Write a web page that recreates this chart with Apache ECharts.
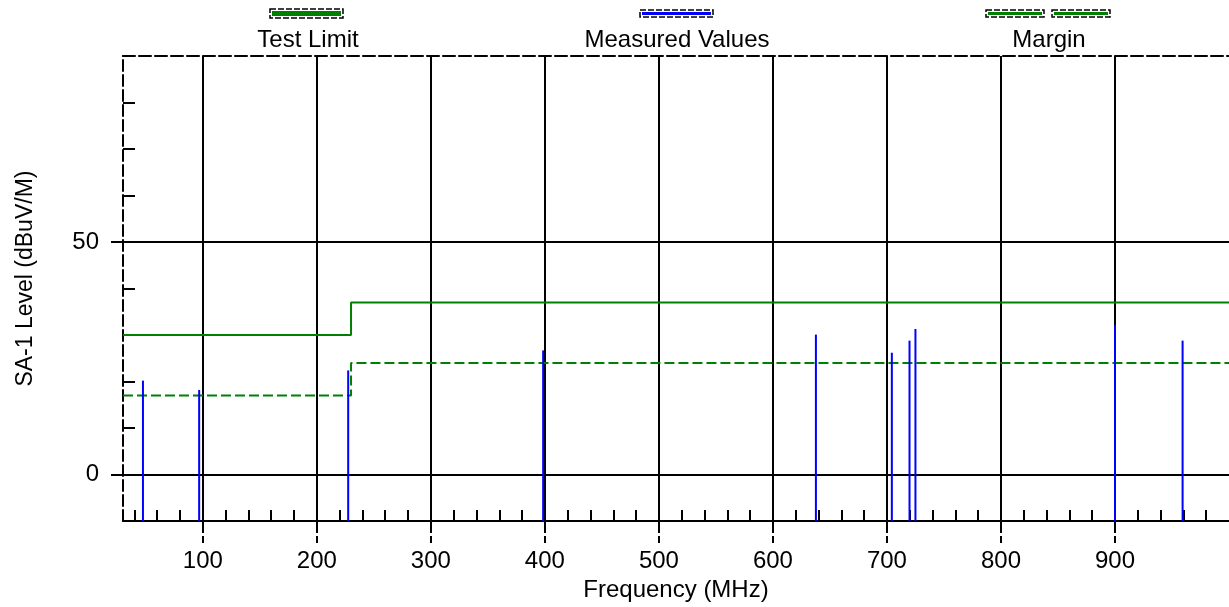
<!DOCTYPE html>
<html>
<head>
<meta charset="utf-8">
<script src="https://cdn.jsdelivr.net/npm/echarts@6/dist/echarts.min.js"></script>
<style>
  html, body { margin: 0; padding: 0; background: #fff; }
  #chart { width: 1229px; height: 607px; }
</style>
</head>
<body>
<div id="chart"></div>
<script>
// limit lines (MHz / dBuV/M)
const limitFreq = [30, 230, 230, 1000];
const limitLevel = [30, 30, 37, 37];
const marginLevel = [17, 17, 24, 24];

// measured peaks
const peakFreq = [47.5, 96.8, 227.5, 398.5, 637.7, 704.3, 719.8, 725.0, 900.0, 959.3];
const peakLevel = [20.2, 18.2, 22.4, 26.7, 30.1, 26.2, 28.8, 31.3, 32.2, 28.8];

// axes
const xMin = 30, xMax = 1000;
const yMin = -10, yMax = 90;
const xMajor = [100, 200, 300, 400, 500, 600, 700, 800, 900];
const xMinor = [40, 60, 80, 120, 140, 160, 180, 220, 240, 260, 280, 320, 340, 360, 380,
  420, 440, 460, 480, 520, 540, 560, 580, 620, 640, 660, 680, 720, 740, 760, 780,
  820, 840, 860, 880, 920, 940, 960, 980];
const yMajor = [0, 50];
const yMinor = [10, 20, 30, 40, 60, 70, 80];

const legendNames = ['Test Limit', 'Measured Values', 'Margin'];

const FONT = "'Liberation Sans', Arial, sans-serif";
const chart = echarts.init(document.getElementById('chart'), null, { renderer: 'canvas' });

const zip = (a, b) => a.map((v, i) => [v, b[i]]);

const option = {
  backgroundColor: '#fff',
  animation: false,
  textStyle: { fontFamily: FONT },
  grid: { left: 123, right: -4, top: 56, bottom: 80, containLabel: false },
  xAxis: [
    {
      type: 'value', min: xMin, max: xMax, position: 'bottom',
      name: 'Frequency (MHz)', nameLocation: 'middle', nameGap: 56,
      nameTextStyle: { fontSize: 24, color: '#000', fontFamily: FONT },
      axisLine: { show: true, onZero: false, lineStyle: { color: '#000', width: 2 } },
      axisTick: { show: true, customValues: xMajor, length: 22, lineStyle: { color: '#000', width: 2, type: [12, 3] } },
      axisLabel: { customValues: xMajor, fontSize: 24, color: '#000', margin: 28, fontFamily: FONT },
      splitLine: { show: true, lineStyle: { color: '#000', width: 2 } }
    },
    {
      type: 'value', min: xMin, max: xMax, position: 'bottom',
      axisLine: { show: false, onZero: false },
      axisTick: { show: true, inside: true, customValues: xMinor, length: 11, lineStyle: { color: '#000', width: 2 } },
      axisLabel: { show: false },
      splitLine: { show: false }
    },
    {
      type: 'value', min: xMin, max: xMax, position: 'top',
      axisLine: { show: true, onZero: false, lineStyle: { color: '#000', width: 2, type: [12, 4] } },
      axisTick: { show: false },
      axisLabel: { show: false },
      splitLine: { show: false }
    }
  ],
  yAxis: [
    {
      type: 'value', min: yMin, max: yMax, position: 'left',
      name: 'SA-1 Level (dBuV/M)', nameLocation: 'middle', nameGap: 86,
      nameTextStyle: { fontSize: 23, color: '#000', fontFamily: FONT, padding: [0, 0, 0, 20] },
      axisLine: { show: true, onZero: false, lineStyle: { color: '#000', width: 2, type: [11, 4] } },
      axisTick: { show: true, customValues: yMajor, length: 12, lineStyle: { color: '#000', width: 2 } },
      axisLabel: { customValues: yMajor, fontSize: 24, color: '#000', margin: 24, fontFamily: FONT },
      splitLine: { show: true, lineStyle: { color: '#000', width: 2 } }
    },
    {
      type: 'value', min: yMin, max: yMax, position: 'left',
      axisLine: { show: false, onZero: false },
      axisTick: { show: true, inside: true, customValues: yMinor, length: 12, lineStyle: { color: '#000', width: 2 } },
      axisLabel: { show: false },
      splitLine: { show: false }
    }
  ],
  series: [
    {
      name: legendNames[0], type: 'line', data: zip(limitFreq, limitLevel),
      symbol: 'none', lineStyle: { color: '#008000', width: 2 }, z: 3
    },
    {
      name: legendNames[2], type: 'line', data: zip(limitFreq, marginLevel),
      symbol: 'none', lineStyle: { color: '#008000', width: 2, type: [10, 4] }, z: 3
    },
    {
      name: legendNames[1], type: 'custom', data: zip(peakFreq, peakLevel), z: 4,
      renderItem: function (params, api) {
        const top = api.coord([api.value(0), api.value(1)]);
        const base = api.coord([api.value(0), yMin]);
        return {
          type: 'line',
          shape: { x1: top[0], y1: top[1], x2: base[0], y2: base[1] },
          style: { stroke: '#0000ff', lineWidth: 2 }
        };
      }
    }
  ],
  graphic: [
    // Test Limit key
    { type: 'rect', shape: { x: 270, y: 9, width: 73, height: 9 }, style: { fill: '#fff', stroke: '#000', lineWidth: 1.5, lineDash: [6, 2] } },
    { type: 'rect', shape: { x: 272, y: 11, width: 69, height: 5 }, style: { fill: '#008000' } },
    { type: 'text', x: 308, y: 40, style: { text: legendNames[0], font: '24px ' + FONT, fill: '#000', align: 'center', verticalAlign: 'middle' } },
    // Measured Values key
    { type: 'rect', shape: { x: 640, y: 10, width: 73, height: 7 }, style: { fill: '#fff', stroke: '#000', lineWidth: 1.5, lineDash: [6, 2] } },
    { type: 'rect', shape: { x: 642, y: 12, width: 69, height: 3 }, style: { fill: '#0000ff' } },
    { type: 'text', x: 677, y: 40, style: { text: legendNames[1], font: '24px ' + FONT, fill: '#000', align: 'center', verticalAlign: 'middle' } },
    // Margin key
    { type: 'rect', shape: { x: 986, y: 10, width: 58, height: 7 }, style: { fill: '#fff', stroke: '#000', lineWidth: 1.5, lineDash: [6, 2] } },
    { type: 'rect', shape: { x: 988, y: 12, width: 54, height: 3 }, style: { fill: '#008000' } },
    { type: 'rect', shape: { x: 1052, y: 10, width: 58, height: 7 }, style: { fill: '#fff', stroke: '#000', lineWidth: 1.5, lineDash: [6, 2] } },
    { type: 'rect', shape: { x: 1054, y: 12, width: 54, height: 3 }, style: { fill: '#008000' } },
    { type: 'text', x: 1049, y: 40, style: { text: legendNames[2], font: '24px ' + FONT, fill: '#000', align: 'center', verticalAlign: 'middle' } }
  ]
};

chart.setOption(option);
</script>
</body>
</html>
